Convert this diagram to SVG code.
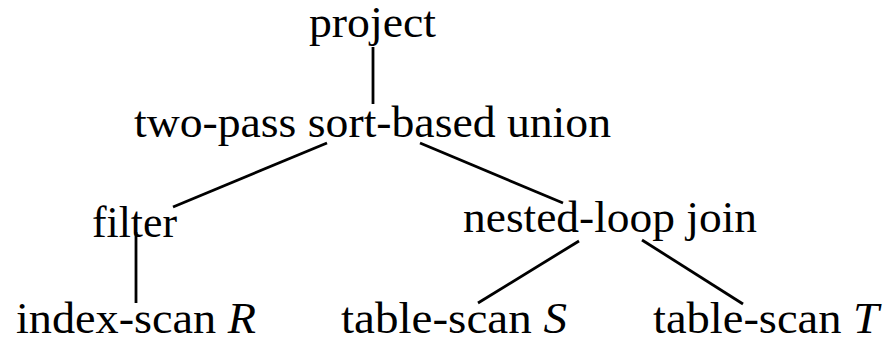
<svg xmlns="http://www.w3.org/2000/svg" width="894" height="338" viewBox="0 0 894 338">
<style>
text{font-family:"Liberation Serif","DejaVu Serif",serif;font-size:44px;fill:#000}
.e line{stroke:#000;stroke-width:2.8;stroke-linecap:butt}
.i{font-style:italic}
</style>
<rect width="894" height="338" fill="#fff"/>
<g class="e" id="connectors">
<line x1="373" y1="47" x2="373" y2="104"/>
<line x1="327" y1="143" x2="173" y2="207"/>
<line x1="420" y1="143" x2="563" y2="203"/>
<line x1="136" y1="232" x2="136" y2="303"/>
<line x1="579" y1="241" x2="478" y2="303"/>
<line x1="642" y1="240" x2="743" y2="304"/>
</g>
<g id="project"><text x="309" y="37" textLength="127" lengthAdjust="spacingAndGlyphs">project</text></g>
<g id="union"><text x="134" y="137" textLength="477" lengthAdjust="spacingAndGlyphs">two-pass sort-based union</text></g>
<g id="filter"><text x="92" y="237" textLength="85" lengthAdjust="spacingAndGlyphs">filter</text></g>
<g id="join"><text x="463" y="232" textLength="294" lengthAdjust="spacingAndGlyphs">nested-loop join</text></g>
<g id="indexR"><text x="16" y="333" textLength="240" lengthAdjust="spacingAndGlyphs">index-scan <tspan class="i">R</tspan></text></g>
<g id="tableS"><text x="341" y="333" textLength="226" lengthAdjust="spacingAndGlyphs">table-scan <tspan class="i">S</tspan></text></g>
<g id="tableT"><text x="653" y="333" textLength="226" lengthAdjust="spacingAndGlyphs">table-scan <tspan class="i">T</tspan></text></g>
</svg>
